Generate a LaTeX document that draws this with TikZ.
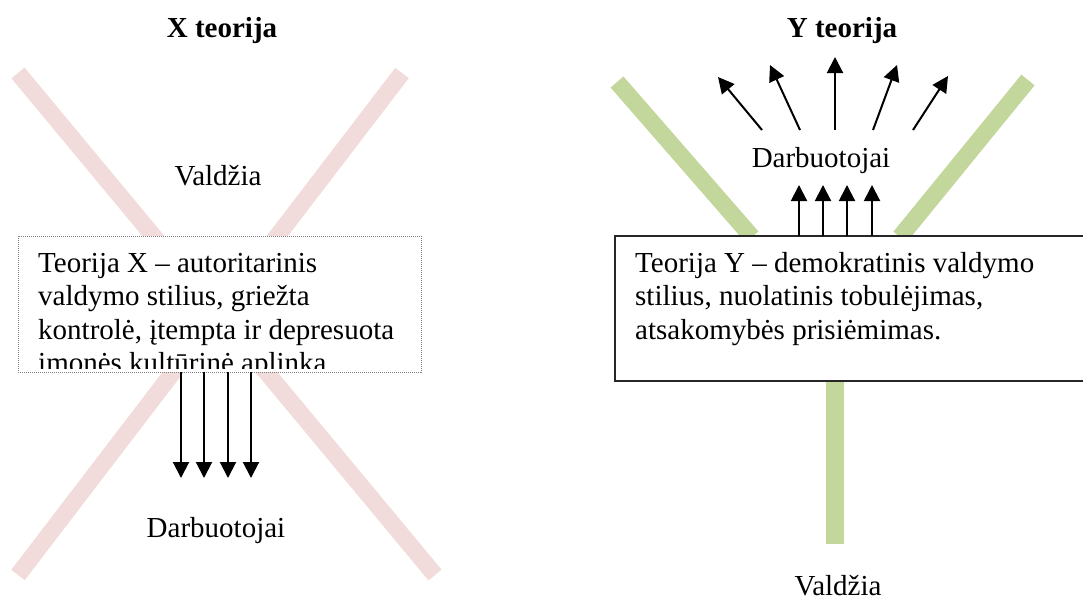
\documentclass[tikz,border=0pt]{standalone}
\usepackage{fontspec}
\setmainfont{Liberation Serif}
\usetikzlibrary{arrows.meta}
\definecolor{pinkbar}{HTML}{F2DCDB}
\definecolor{greenbar}{HTML}{C3D69B}
\begin{document}
\begin{tikzpicture}[x=1pt,y=-1pt,
  bar/.style={line width=17pt},
  arr/.style={line width=2pt,-{Triangle[width=16pt,length=16pt]}},
  txt/.style={font=\fontsize{29}{33.5}\selectfont, inner sep=0pt},
  ttl/.style={font=\fontsize{29}{33.5}\selectfont\bfseries, inner sep=0pt},
]
\useasboundingbox (0,0) rectangle (1083,600);
% ---------- titles
\node[ttl, anchor=base] (tx) at (222,37) {X teorija};
\node[ttl, anchor=base] (ty) at (842,37) {Y teorija};

% ---------- left panel (X)
\coordinate (xa1) at (18,73);
\coordinate (xa2) at (435,575);
\coordinate (xb1) at (402,73);
\coordinate (xb2) at (18,575);
\draw[bar,pinkbar] (xa1) -- (xa2);
\draw[bar,pinkbar] (xb1) -- (xb2);

\node[txt, anchor=base] (xval) at (218,185) {Valdžia};
\node[txt, anchor=base] (xdarb) at (216,537) {Darbuotojai};

\draw[fill=white, draw=gray, line width=0.8pt, dash pattern=on 1pt off 1pt]
  (18,236) rectangle (421,372);
\coordinate (xboxbot) at (216,372);
\begin{scope}
  \clip (18,236) rectangle (421,368);
  \node[txt, anchor=north west, align=left] (xtext) at (38,253)
    {Teorija X -- autoritarinis\\valdymo stilius, griežta\\kontrolė, įtempta ir depresuota\\įmonės kultūrinė aplinka.};
\end{scope}
\foreach \x [count=\i] in {181,204,228,251}{
  \coordinate (xs\i) at (\x,372);
  \coordinate (xe\i) at (\x,478);
  \draw[arr] (xs\i) -- (xe\i);
}

% ---------- right panel (Y)
\coordinate (ya1) at (617,82);
\coordinate (ya2) at (752,237);
\coordinate (yb1) at (1028,80);
\coordinate (yb2) at (900,237);
\coordinate (yc1) at (835,240);
\coordinate (yc2) at (835,544);
\draw[bar,greenbar] (ya1) -- (ya2);
\draw[bar,greenbar] (yb1) -- (yb2);
\draw[line width=18pt,greenbar] (yc1) -- (yc2);

\draw[fill=white, draw=black!85, line width=1.3pt] (615,236) rectangle (1095,381);
\node[txt, anchor=north west, align=left] (ytext) at (635,252)
  {Teorija Y -- demokratinis valdymo\\stilius, nuolatinis tobulėjimas,\\atsakomybės prisiėmimas.};

\node[txt, anchor=base] (ydarb) at (821,167) {Darbuotojai};
\node[txt, anchor=base] (yval) at (838,595) {Valdžia};

\foreach \x [count=\i] in {799,823,847,872}{
  \coordinate (ys\i) at (\x,236);
  \coordinate (ye\i) at (\x,185);
  \draw[arr] (ys\i) -- (ye\i);
}
\coordinate (fs1) at (762,130); \coordinate (fe1) at (718,77);
\coordinate (fs2) at (800,130); \coordinate (fe2) at (770,65);
\coordinate (fs3) at (835,130); \coordinate (fe3) at (835,57);
\coordinate (fs4) at (873,130); \coordinate (fe4) at (897,65);
\coordinate (fs5) at (913,130); \coordinate (fe5) at (948,76);
\foreach \i in {1,...,5}{ \draw[arr] (fs\i) -- (fe\i); }
\end{tikzpicture}
\end{document}
